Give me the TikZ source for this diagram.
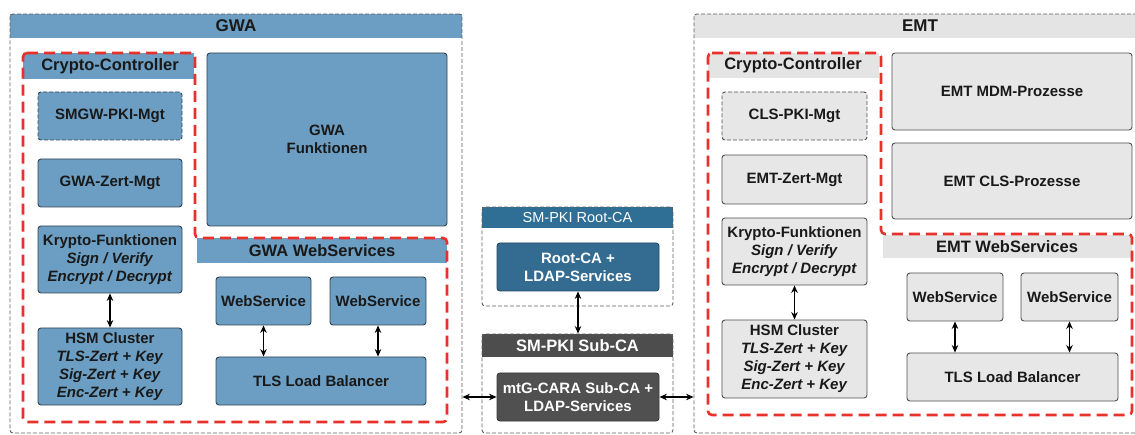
\documentclass[tikz,border=0pt]{standalone}
\usepackage{fontspec}
\setmainfont{Liberation Sans}
\usetikzlibrary{arrows.meta}
\definecolor{gblue}{RGB}{107,158,194}
\definecolor{bdark}{RGB}{50,68,82}
\definecolor{lgray}{RGB}{231,231,231}
\definecolor{gdark}{RGB}{80,80,80}
\definecolor{hgray}{RGB}{228,228,228}
\definecolor{rootblue}{RGB}{47,111,150}
\definecolor{rootbox}{RGB}{51,107,145}
\definecolor{subhead}{RGB}{77,77,77}
\definecolor{subbox}{RGB}{80,80,80}
\definecolor{cred}{RGB}{232,49,42}
\definecolor{outline}{RGB}{95,95,95}
\definecolor{txt}{RGB}{25,25,25}
\tikzset{
  sz/.style 2 args={minimum width=#1pt,minimum height=#2pt},
  box/.style={rectangle, rounded corners=3pt, line width=0.9pt, align=center, inner sep=0pt, text=txt,
    font=\fontsize{15}{18}\selectfont\bfseries},
  bluebox/.style={box, fill=gblue, draw=bdark},
  graybox/.style={box, fill=lgray, draw=gdark},
  dashedge/.style={dash pattern=on 4pt off 2pt},
  reddash/.style={draw=cred, line width=2.6pt, dash pattern=on 11pt off 6pt, rounded corners=4pt},
  outerbox/.style={rectangle, draw=outline, line width=0.9pt, dash pattern=on 4pt off 2pt, rounded corners=3pt, inner sep=0pt},
  arr/.style={{Stealth[length=7.5pt,width=6.5pt]}-{Stealth[length=7.5pt,width=6.5pt]}, line width=1.2pt, draw=black},
  bandtxt/.style={inner sep=0pt, text=txt, font=\fontsize{16.5}{18}\selectfont\bfseries},
  toptxt/.style={inner sep=0pt, text=txt, font=\fontsize{17}{18}\selectfont\bfseries},
}
\begin{document}
\begin{tikzpicture}[x=1pt,y=-1pt]
\useasboundingbox (0,0) rectangle (1135,435);
\clip (0,0) rectangle (1135,435);

% ---------------- GWA ----------------
\fill[gblue] (10,14) rectangle (462,38);
\node[outerbox, sz={452}{419}] (gwa) at (236,223.5) {};
\node[toptxt] (gwatitle) at (236,26) {GWA};

\fill[gblue] (23,53) rectangle (194,79);
\node[bandtxt] (gcc) at (110,66) {Crypto-Controller};
\fill[gblue] (197,238) rectangle (447,263);
\node[bandtxt] (gwsband) at (322,250.5) {GWA WebServices};

\node[bluebox, dashedge, sz={144}{48}] (smgw) at (110,116) {SMGW-PKI-Mgt};
\node[bluebox, sz={144}{48}] (gwazert) at (110,183) {GWA-Zert-Mgt};
\node[bluebox, sz={144}{67}] (gkrypto) at (110,259.5) {Krypto-Funktionen\\\textit{Sign / Verify}\\\textit{Encrypt / Decrypt}};
\node[bluebox, sz={144}{77}] (ghsm) at (110,366.5) {HSM Cluster\\\textit{TLS-Zert + Key}\\\textit{Sig-Zert + Key}\\\textit{Enc-Zert + Key}};
\node[bluebox, sz={240}{173}] (gfunk) at (327,139.5) {GWA\\Funktionen};
\node[bluebox, sz={95}{48}] (gws1) at (263.5,301) {WebService};
\node[bluebox, sz={96}{48}] (gws2) at (378,301) {WebService};
\node[bluebox, sz={210}{48}] (gtls) at (321,381) {TLS Load Balancer};

\draw[reddash] (23,53) -- (195,53) -- (195,238) -- (447,238) -- (447,422) -- (23,422) -- cycle;

\draw[arr] (gkrypto.south) -- (ghsm.north);
\draw[arr] (gws1.south) -- (gws1.south |- gtls.north);
\draw[arr] (gws2.south) -- (gws2.south |- gtls.north);

% ---------------- Middle ----------------
\fill[rootblue] (482,207) rectangle (673,228);
\node[outerbox, sz={191}{99}] (rootca) at (577.5,256.5) {};
\node[inner sep=0pt, text=white, font=\fontsize{14.5}{18}\selectfont] (roottitle) at (577.5,217.5) {SM-PKI Root-CA};
\node[box, fill=rootbox, draw=rootbox!70!black, text=white, sz={162}{48}] (rootsvc) at (578,267) {Root-CA +\\LDAP-Services};

\fill[subhead] (482,334) rectangle (673,357);
\node[outerbox, sz={191}{99}] (subca) at (577.5,383.5) {};
\node[inner sep=0pt, text=white, font=\fontsize{16.5}{18}\selectfont\bfseries] (subtitle) at (577.5,345.5) {SM-PKI Sub-CA};
\node[box, fill=subbox, draw=subbox!70!black, text=white, sz={162}{48}] (mtg) at (578,397) {mtG-CARA Sub-CA +\\LDAP-Services};

\draw[arr] (rootsvc.south) -- (subca.north -| rootsvc.south);

% ---------------- EMT ----------------
\fill[hgray] (694,14) rectangle (1146,38);
\node[outerbox, sz={452}{419}] (emt) at (920,223.5) {};
\node[toptxt] (emttitle) at (920,26) {EMT};

\fill[hgray] (708,53) rectangle (879,78);
\node[bandtxt] (ecc) at (793,65.5) {Crypto-Controller};
\fill[hgray] (883,235) rectangle (1132,258);
\node[bandtxt] (ewsband) at (1007,246.5) {EMT WebServices};

\node[graybox, dashedge, sz={145}{48}] (cls) at (794.5,116) {CLS-PKI-Mgt};
\node[graybox, sz={145}{49}] (emtzert) at (794.5,179.5) {EMT-Zert-Mgt};
\node[graybox, sz={145}{67}] (ekrypto) at (794.5,251.5) {Krypto-Funktionen\\\textit{Sign / Verify}\\\textit{Encrypt / Decrypt}};
\node[graybox, sz={145}{78}] (ehsm) at (794.5,359) {HSM Cluster\\\textit{TLS-Zert + Key}\\\textit{Sig-Zert + Key}\\\textit{Enc-Zert + Key}};
\node[graybox, sz={240}{77}] (mdm) at (1012,91.5) {EMT MDM-Prozesse};
\node[graybox, sz={240}{76}] (clsp) at (1012,181) {EMT CLS-Prozesse};
\node[graybox, sz={96}{48}] (ews1) at (955,297) {WebService};
\node[graybox, sz={97}{48}] (ews2) at (1069.5,297) {WebService};
\node[graybox, sz={211}{48}] (etls) at (1012.5,377) {TLS Load Balancer};

\draw[reddash] (708,53) -- (881,53) -- (881,234) -- (1132,234) -- (1132,415) -- (708,415) -- cycle;

\draw[arr] (ekrypto.south) -- (ehsm.north);
\draw[arr] (ews1.south) -- (ews1.south |- etls.north);
\draw[arr] (ews2.south) -- (ews2.south |- etls.north);

% ---------------- cross links ----------------
\draw[arr] (mtg.west -| gwa.east) -- (mtg.west);
\draw[arr] (mtg.east) -- (mtg.east -| emt.west);
\end{tikzpicture}
\end{document}
